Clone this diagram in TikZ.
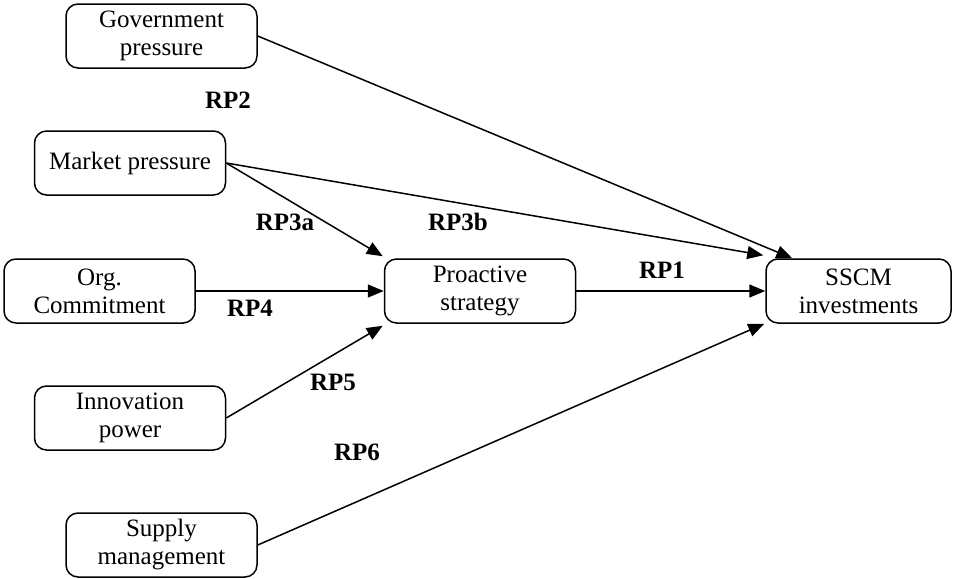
\documentclass[tikz,border=0pt]{standalone}
\usepackage{fontspec}
\setmainfont{Liberation Serif}
\usetikzlibrary{arrows.meta,calc}

\tikzset{
	factor/.style={draw, rounded corners=6pt, minimum width=95.5pt, minimum height=32pt,
		align=center, inner sep=1pt, font=\fontsize{12.5}{14}\selectfont},
	rp label/.style={font=\fontsize{12.5}{14}\selectfont\bfseries},
}

\begin{document}
\begin{tikzpicture}[x=0.5pt, y=-0.5pt, line width=0.75pt, >={Triangle[length=8pt,width=6.5pt]}]
\useasboundingbox (0,0) rectangle (955,579);
% antecedents
\node [factor] (gov) at (161.5,36) {Government\\pressure};
\node [factor] (market) at (130,163) {Market pressure};
\node [factor] (org) at (99.5,291) {Org.\\Commitment};
\node [factor] (innov) at (130,418) {Innovation\\power};
\node [factor] (supply) at (161.5,545) {Supply\\management};

% mediator and outcome
\node [factor] (proactive) at (480,291) {Proactive\\strategy};
\node [factor, minimum width=92.5pt] (sscm) at (858.5,291) {SSCM\\investments};

% hypothesis links
\draw [->] (gov.east) -- ($(sscm.north west)+(27,0)$);
\draw [->] (market.east) -- ($(sscm.north west)+(-2,-3)$);
\draw [->] (market.east) -- ($(proactive.north west)+(-1,-2)$);
\draw [->] (org.east) -- (proactive.west);
\draw [->] (innov.east) -- ($(proactive.south west)+(-1,2)$);
\draw [->] (proactive.east) -- (sscm.west);
\draw [->] (supply.east) -- ($(sscm.south west)+(-1,0)$);

% hypothesis labels
\foreach \l/\x/\y in {RP1/662/270, RP2/228/100, RP3a/285/222, RP3b/458/222,
	RP4/250/308, RP5/333/382, RP6/357/452}
	\node [rp label] (\l) at (\x,\y) {\l};

\end{tikzpicture}
\end{document}
